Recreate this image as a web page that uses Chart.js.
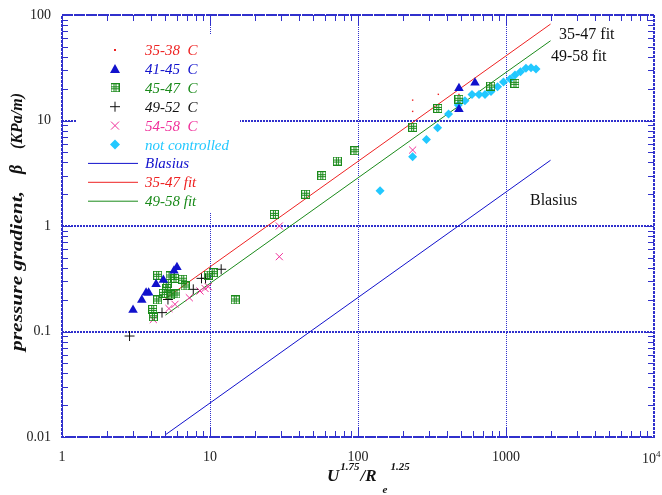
<!DOCTYPE html>
<html>
<head>
<meta charset="utf-8">
<script src="https://cdn.jsdelivr.net/npm/chart.js@4.4.1/dist/chart.umd.min.js"></script>
<style>
  html, body { margin: 0; padding: 0; background: #fff; }
</style>
</head>
<body>
<canvas id="chart" width="662" height="495"></canvas>
<script>
// 35-38 C
const x3538 = [234, 234, 349, 481]
const y3538 = [15.6, 12.2, 17.7, 17.7]
// 41-45 C
const x4145 = [3.02, 3.46, 3.70, 3.85, 4.32, 4.84, 5.71, 5.98, 481, 481, 617]
const y4145 = [0.160, 0.199, 0.233, 0.233, 0.280, 0.308, 0.377, 0.406, 20.2, 12.8, 22.8]
// 45-47 C
const x4547 = [4.43, 5.37, 5.14, 5.80, 6.54, 6.78, 5.10, 4.84, 4.43, 5.37, 5.89, 4.10, 4.14, 9.74, 10.5, 14.8, 27.2, 44.3, 56.9, 72.5, 95.4, 234, 346, 481, 788, 1150]
const y4547 = [0.341, 0.336, 0.286, 0.319, 0.313, 0.270, 0.257, 0.230, 0.199, 0.222, 0.227, 0.162, 0.138, 0.343, 0.361, 0.199, 1.29, 2.00, 3.00, 4.13, 5.17, 8.62, 13.0, 15.9, 21.2, 22.5]
// 49-52 C
const x4952 = [2.86, 4.74, 5.20, 7.71, 8.76, 9.33, 11.9]
const y4952 = [0.0906, 0.151, 0.201, 0.251, 0.319, 0.319, 0.389]
// 54-58 C
const x5458 = [4.14, 5.28, 5.80, 7.25, 8.56, 9.25, 9.74, 29.4, 29.4, 234]
const y5458 = [0.130, 0.165, 0.181, 0.209, 0.242, 0.256, 0.266, 0.512, 1.0, 5.25]
// not controlled
const xFree = [141, 234, 290, 345, 409, 476, 528, 589, 657, 721, 792, 877, 962, 1065, 1150, 1253, 1364, 1475, 1595]
const yFree = [2.16, 4.54, 6.61, 8.55, 11.5, 14.0, 15.4, 17.6, 17.6, 17.6, 18.8, 20.9, 23.2, 24.7, 27.0, 29.0, 31.2, 31.6, 30.8]
// curves
const xBlasius = [5, 10, 100, 1000, 2000]
const yBlasius = [0.0105, 0.021, 0.21, 2.1, 4.2]
const xFit1 = [5, 10, 100, 1000, 2000]
const yFit1 = [0.205, 0.41, 4.1, 41, 82]
const xFit2 = [5, 10, 100, 1000, 2000]
const yFit2 = [0.143, 0.286, 2.86, 28.6, 57]

// the last x label (10 to the 4th) is drawn by hand with a raised 4
const xTickLabels = ['1', '10', '100', '1000', '']
const yTickLabels = ['0.01', '0.1', '1', '10', '100']

const RED = '#ee2222'
const BLUE = '#1111cc'
const GREEN = '#1a8a1a'
const MAGENTA = '#f0309a'
const CYAN = '#22c8ff'
const AXIS = '#3030cc'
const SERIF = '"Liberation Serif", "Times New Roman", serif'

const pts = (xs, ys) => xs.map((x, i) => ({ x, y: ys[i] }))
const isDecade = v => Math.abs(Math.log10(v) - Math.round(Math.log10(v))) < 1e-6

function gridSquare(color) {
  const c = document.createElement('canvas')
  c.width = 9
  c.height = 9
  const g = c.getContext('2d')
  g.strokeStyle = color
  g.lineWidth = 1
  g.strokeRect(0.5, 0.5, 8, 8)
  g.beginPath()
  ;[3.5, 5.5].forEach(p => {
    g.moveTo(p, 0)
    g.lineTo(p, 9)
    g.moveTo(0, p)
    g.lineTo(9, p)
  })
  g.stroke()
  return c
}

const squareImg = gridSquare(GREEN)

const legendItems = [
  { text: '35-38  C', color: RED, mark: 'dot' },
  { text: '41-45  C', color: BLUE, mark: 'triangle' },
  { text: '45-47  C', color: GREEN, mark: 'square' },
  { text: '49-52  C', color: '#111', mark: 'plus' },
  { text: '54-58  C', color: MAGENTA, mark: 'cross' },
  { text: 'not controlled', color: CYAN, mark: 'diamond' },
  { text: 'Blasius', color: BLUE, mark: 'line' },
  { text: '35-47 fit', color: RED, mark: 'line' },
  { text: '49-58 fit', color: GREEN, mark: 'line' }
]

function drawMark(ctx, mark, color, x, y) {
  ctx.save()
  ctx.fillStyle = color
  ctx.strokeStyle = color
  ctx.lineWidth = 1
  ctx.beginPath()
  if (mark === 'dot') {
    ctx.fillRect(x - 1, y - 1, 2, 2)
  } else if (mark === 'triangle') {
    ctx.moveTo(x, y - 5)
    ctx.lineTo(x + 5, y + 4)
    ctx.lineTo(x - 5, y + 4)
    ctx.closePath()
    ctx.fill()
  } else if (mark === 'square') {
    ctx.drawImage(squareImg, x - 4.5, y - 4.5)
  } else if (mark === 'plus') {
    ctx.moveTo(x - 5, y)
    ctx.lineTo(x + 5, y)
    ctx.moveTo(x, y - 5)
    ctx.lineTo(x, y + 5)
    ctx.stroke()
  } else if (mark === 'cross') {
    ctx.moveTo(x - 4, y - 4)
    ctx.lineTo(x + 4, y + 4)
    ctx.moveTo(x + 4, y - 4)
    ctx.lineTo(x - 4, y + 4)
    ctx.stroke()
  } else if (mark === 'diamond') {
    ctx.moveTo(x, y - 5)
    ctx.lineTo(x + 5, y)
    ctx.lineTo(x, y + 5)
    ctx.lineTo(x - 5, y)
    ctx.closePath()
    ctx.fill()
  } else if (mark === 'line') {
    ctx.moveTo(88, y)
    ctx.lineTo(138, y)
    ctx.stroke()
  }
  ctx.restore()
}

// draw text squeezed or stretched to a given length
function fitText(ctx, text, x, y, len) {
  const w = ctx.measureText(text).width
  ctx.save()
  ctx.translate(x, y)
  ctx.scale(len / w, 1)
  ctx.fillText(text, 0, 0)
  ctx.restore()
}

const decorPlugin = {
  id: 'decor',
  beforeDatasetsDraw(chart) {
    const { ctx } = chart
    // white box behind the legend
    ctx.save()
    ctx.fillStyle = '#fff'
    ctx.fillRect(77, 34, 163, 178)
    ctx.restore()
  },
  afterDraw(chart) {
    const { ctx, chartArea: a, scales } = chart
    const xs = scales.x
    const ys = scales.y
    ctx.save()

    // inward ticks on all four sides
    ctx.strokeStyle = AXIS
    ctx.lineWidth = 1
    ctx.beginPath()
    for (let e = 0; e < 4; e++) {
      for (let m = 1; m <= 9; m++) {
        const v = m * Math.pow(10, e)
        const px = Math.round(xs.getPixelForValue(v)) + 0.5
        const len = m === 1 ? 10 : 6
        ctx.moveTo(px, a.bottom)
        ctx.lineTo(px, a.bottom - len)
        ctx.moveTo(px, a.top)
        ctx.lineTo(px, a.top + len)
      }
      for (let m = 1; m <= 9; m++) {
        const v = m * Math.pow(10, e - 2)
        const py = Math.round(ys.getPixelForValue(v)) + 0.5
        const len = m === 1 ? 10 : 6
        ctx.moveTo(a.left, py)
        ctx.lineTo(a.left + len, py)
        ctx.moveTo(a.right, py)
        ctx.lineTo(a.right - len, py)
      }
    }
    ctx.stroke()

    // frame
    ctx.lineWidth = 2
    ctx.setLineDash([3, 1])
    ctx.strokeRect(a.left, a.top, a.right - a.left, a.bottom - a.top)
    ctx.setLineDash([])

    // last x tick label: 10 with a raised 4
    const px4 = xs.getPixelForValue(10000)
    ctx.fillStyle = '#222'
    ctx.textBaseline = 'alphabetic'
    ctx.font = '14px ' + SERIF
    ctx.fillText('10', px4 - 12, 463)
    ctx.font = '9px ' + SERIF
    ctx.fillText('4', px4 + 2, 457)

    // legend
    ctx.font = 'italic 15px ' + SERIF
    legendItems.forEach((item, i) => {
      const y = 50 + i * 18.9
      drawMark(ctx, item.mark, item.color, 115, y)
      ctx.fillStyle = item.color
      ctx.fillText(item.text, 145, y + 5)
    })

    // curve labels
    ctx.fillStyle = '#111'
    ctx.font = '16px ' + SERIF
    ctx.fillText('35-47 fit', 559, 39)
    ctx.fillText('49-58 fit', 551, 61)
    ctx.fillText('Blasius', 530, 205)

    // x title
    const big = 'bold italic 17px ' + SERIF
    const small = 'bold italic 11px ' + SERIF
    let x = 327
    ctx.font = big
    ctx.fillText('U', x, 481)
    x += ctx.measureText('U').width + 1
    ctx.font = small
    ctx.fillText('1.75', x, 470)
    x += ctx.measureText('1.75').width + 1
    ctx.font = big
    ctx.fillText('/R', x, 481)
    x += ctx.measureText('/R').width + 6
    ctx.font = small
    ctx.fillText('e', x, 493)
    ctx.fillText('1.25', x + 8, 470)

    // y title
    ctx.translate(22, 0)
    ctx.rotate(-Math.PI / 2)
    ctx.font = 'bold italic 17px ' + SERIF
    fitText(ctx, 'pressure gradient,', -351, 0, 160)
    ctx.font = 'bold italic 18px ' + SERIF
    ctx.fillText('β', -174, 0)
    ctx.font = 'bold italic 16px ' + SERIF
    ctx.fillText('(KPa/m)', -149, 0)

    ctx.restore()
  }
}

const datasets = [
  {
    label: '35-38 C',
    data: pts(x3538, y3538),
    pointStyle: 'rect',
    pointRadius: 1,
    backgroundColor: RED,
    borderColor: RED,
    borderWidth: 0
  },
  {
    label: '41-45 C',
    data: pts(x4145, y4145),
    pointStyle: 'triangle',
    pointRadius: 5.5,
    backgroundColor: BLUE,
    borderColor: BLUE,
    borderWidth: 0
  },
  {
    label: '45-47 C',
    data: pts(x4547, y4547),
    pointStyle: squareImg
  },
  {
    label: '49-52 C',
    data: pts(x4952, y4952),
    pointStyle: 'cross',
    pointRadius: 5,
    borderColor: '#111',
    borderWidth: 1
  },
  {
    label: '54-58 C',
    data: pts(x5458, y5458),
    pointStyle: 'crossRot',
    pointRadius: 5,
    borderColor: MAGENTA,
    borderWidth: 1
  },
  {
    label: 'not controlled',
    data: pts(xFree, yFree),
    pointStyle: 'rectRot',
    pointRadius: 4.5,
    backgroundColor: CYAN,
    borderColor: CYAN,
    borderWidth: 0
  },
  {
    label: 'Blasius',
    data: pts(xBlasius, yBlasius),
    showLine: true,
    pointRadius: 0,
    borderColor: BLUE,
    borderWidth: 1
  },
  {
    label: '35-47 fit',
    data: pts(xFit1, yFit1),
    showLine: true,
    pointRadius: 0,
    borderColor: RED,
    borderWidth: 1
  },
  {
    label: '49-58 fit',
    data: pts(xFit2, yFit2),
    showLine: true,
    pointRadius: 0,
    borderColor: GREEN,
    borderWidth: 1
  }
]

new Chart(document.getElementById('chart'), {
  type: 'scatter',
  data: { datasets },
  options: {
    responsive: false,
    animation: false,
    layout: { autoPadding: false, padding: { top: 15, right: 8, left: 0, bottom: 0 } },
    plugins: { legend: { display: false }, tooltip: { enabled: false } },
    scales: {
      x: {
        type: 'logarithmic',
        min: 1,
        max: 10000,
        afterFit: s => {
          s.height = 58
          s.paddingLeft = 0
          s.paddingRight = 0
        },
        border: { display: false, dash: [1, 1] },
        grid: {
          drawTicks: false,
          lineWidth: 1,
          color: c => (isDecade(c.tick.value) ? AXIS : 'transparent')
        },
        ticks: {
          autoSkip: false,
          maxRotation: 0,
          padding: 12,
          color: '#222',
          font: { family: SERIF, size: 14 },
          callback: v => (isDecade(v) ? xTickLabels[Math.round(Math.log10(v))] : '')
        }
      },
      y: {
        type: 'logarithmic',
        min: 0.01,
        max: 100,
        afterFit: s => {
          s.width = 62
          s.paddingTop = 0
          s.paddingBottom = 0
        },
        border: { display: false, dash: [2, 1] },
        grid: {
          drawTicks: false,
          lineWidth: 2,
          color: c => (isDecade(c.tick.value) ? AXIS : 'transparent')
        },
        ticks: {
          autoSkip: false,
          padding: 11,
          color: '#222',
          font: { family: SERIF, size: 14 },
          callback: v => (isDecade(v) ? yTickLabels[Math.round(Math.log10(v)) + 2] : '')
        }
      }
    }
  },
  plugins: [decorPlugin]
})
</script>
</body>
</html>
